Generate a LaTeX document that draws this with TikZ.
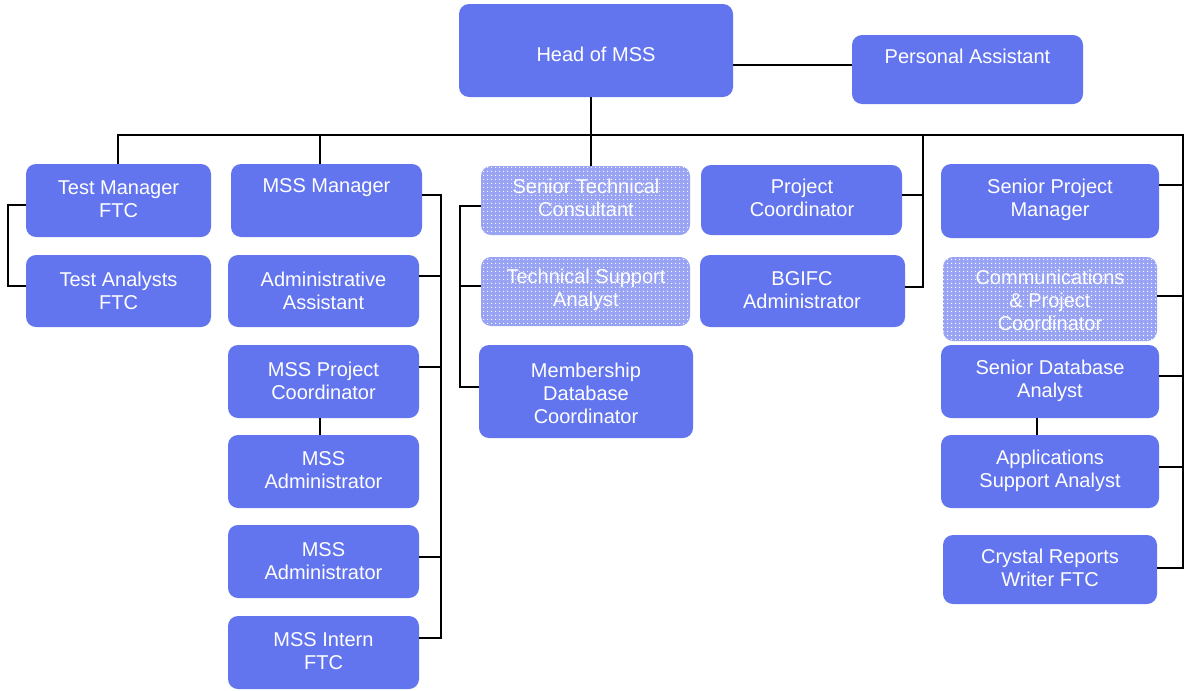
\documentclass[tikz,border=0pt]{standalone}
\usepackage{fontspec}
\setmainfont{Liberation Sans}
\usetikzlibrary{patterns.meta}
\definecolor{boxblue}{RGB}{99,117,238}
\definecolor{dotblue}{RGB}{152,163,244}
\begin{document}
\begin{tikzpicture}[x=1pt,y=-1pt,
  box/.style={fill=boxblue, rounded corners=10pt, inner sep=0pt, outer sep=0pt},
  dbox/.style={fill=dotblue, rounded corners=10pt, inner sep=0pt, outer sep=0pt,
    postaction={pattern={Dots[distance=4pt,radius=0.9pt]}, pattern color=white}},
  txt/.style={text=white, align=center, font=\fontsize{20}{23}\selectfont, inner sep=0pt},
  conn/.style={draw=black, line width=1.8pt}]
\useasboundingbox (0,0) rectangle (1184,691);

% boxes
\node[box, minimum width=274pt, minimum height=93pt] (head) at (596,50.5) {};
\node[box, minimum width=231pt, minimum height=69pt] (pa) at (967.5,69.5) {};
\node[box, minimum width=185pt, minimum height=73pt] (tm) at (118.5,200.5) {};
\node[box, minimum width=185pt, minimum height=72pt] (ta) at (118.5,291) {};
\node[box, minimum width=191pt, minimum height=73pt] (mm) at (326.5,200.5) {};
\node[box, minimum width=191pt, minimum height=72pt] (aa) at (323.5,291) {};
\node[box, minimum width=191pt, minimum height=73pt] (mpc) at (323.5,381.5) {};
\node[box, minimum width=191pt, minimum height=73pt] (ma1) at (323.5,471.5) {};
\node[box, minimum width=191pt, minimum height=73pt] (ma2) at (323.5,561.5) {};
\node[box, minimum width=191pt, minimum height=73pt] (mi) at (323.5,652.5) {};
\node[dbox, minimum width=209pt, minimum height=69pt] (stc) at (585.5,200.5) {};
\node[dbox, minimum width=209pt, minimum height=69pt] (tsa) at (585.5,291.5) {};
\node[box, minimum width=214pt, minimum height=93pt] (mdc) at (586,391.5) {};
\node[box, minimum width=201pt, minimum height=70pt] (pc) at (801.5,200) {};
\node[box, minimum width=205pt, minimum height=72pt] (bg) at (802.5,291) {};
\node[box, minimum width=218pt, minimum height=74pt] (spm) at (1050,201) {};
\node[dbox, minimum width=214pt, minimum height=84pt] (cpc) at (1050,299) {};
\node[box, minimum width=218pt, minimum height=73pt] (sda) at (1050,381.5) {};
\node[box, minimum width=218pt, minimum height=73pt] (asa) at (1050,471.5) {};
\node[box, minimum width=214pt, minimum height=69pt] (crw) at (1050,569.5) {};

% texts
\node[txt] (thead) at (596,54) {Head of MSS};
\node[txt] (tpa) at (967.5,56) {Personal Assistant};
\node[txt] (ttm) at (118.5,199.5) {Test Manager\\FTC};
\node[txt] (tta) at (118.5,290.5) {Test Analysts\\FTC};
\node[txt] (tmm) at (326.5,188) {MSS Manager};
\node[txt] (taa) at (323.5,290.5) {Administrative\\Assistant};
\node[txt] (tmpc) at (323.5,380.5) {MSS Project\\Coordinator};
\node[txt] (tma1) at (323.5,470.5) {MSS\\Administrator};
\node[txt] (tma2) at (323.5,561.5) {MSS\\Administrator};
\node[txt] (tmi) at (323.5,651.5) {MSS Intern\\FTC};
\node[txt] (tstc) at (586,197.5) {Senior Technical\\Consultant};
\node[txt] (ttsa) at (586,289.5) {Technical Support\\Analyst};
\node[txt] (tmdc) at (586,393) {Membership\\Database\\Coordinator};
\node[txt] (tpc) at (802,197.5) {Project\\Coordinator};
\node[txt] (tbg) at (802,290.5) {BGIFC\\Administrator};
\node[txt] (tspm) at (1050,199.5) {Senior Project\\Manager};
\node[txt] (tcpc) at (1050,300) {Communications\\\&~Project\\Coordinator};
\node[txt] (tsda) at (1050,380.5) {Senior Database\\Analyst};
\node[txt] (tasa) at (1050,470.5) {Applications\\Support Analyst};
\node[txt] (tcrw) at (1050,567.5) {Crystal Reports\\Writer FTC};

% helper coordinates
\coordinate (busL) at (118,135);
\coordinate (busR) at (1183,135);
\coordinate (dropMM) at (320,135);
\coordinate (dropH) at (591,135);
\coordinate (dropP) at (923,135);
\coordinate (lrail) at (8,205);
\coordinate (mrail) at (441,195);
\coordinate (crail) at (460,206);
\coordinate (x320) at (320,0);
\coordinate (x1037) at (1037,0);
\coordinate (y65) at (0,65);
\coordinate (y185) at (0,185);
\coordinate (y195) at (0,195);
\coordinate (y205) at (0,205);
\coordinate (y276) at (0,276);
\coordinate (y286) at (0,286);
\coordinate (y287) at (0,287);
\coordinate (y296) at (0,296);
\coordinate (y367) at (0,367);
\coordinate (y376) at (0,376);
\coordinate (y387) at (0,387);
\coordinate (y467) at (0,467);
\coordinate (y557) at (0,557);
\coordinate (y568) at (0,568);
\coordinate (y638) at (0,638);

% connectors
\draw[conn] (head.east |- y65) -- (pa.west |- y65);
\draw[conn] (head.south -| dropH) -- (stc.north -| dropH);
\draw[conn] (tm.north -| busL) -- (busL) -- (busR) |- (crw.east |- y568);
\draw[conn] (mm.north -| dropMM) -- (dropMM);
\draw[conn] (dropP) |- (bg.east |- y287);
\draw[conn] (pc.east |- y195) -- (dropP |- y195);

\draw[conn] (tm.west |- y205) -- (lrail) |- (ta.west |- y286);

\draw[conn] (mm.east |- mrail) -- (mrail) |- (mi.east |- y638);
\draw[conn] (aa.east |- y276) -- (mrail |- y276);
\draw[conn] (mpc.east |- y367) -- (mrail |- y367);
\draw[conn] (ma2.east |- y557) -- (mrail |- y557);
\draw[conn] (mpc.south -| x320) -- (ma1.north -| x320);

\draw[conn] (stc.west |- crail) -- (crail) |- (mdc.west |- y387);
\draw[conn] (tsa.west |- y286) -- (crail |- y286);

\draw[conn] (spm.east |- y185) -- (busR |- y185);
\draw[conn] (cpc.east |- y296) -- (busR |- y296);
\draw[conn] (sda.east |- y376) -- (busR |- y376);
\draw[conn] (asa.east |- y467) -- (busR |- y467);
\draw[conn] (sda.south -| x1037) -- (asa.north -| x1037);
\end{tikzpicture}
\end{document}
